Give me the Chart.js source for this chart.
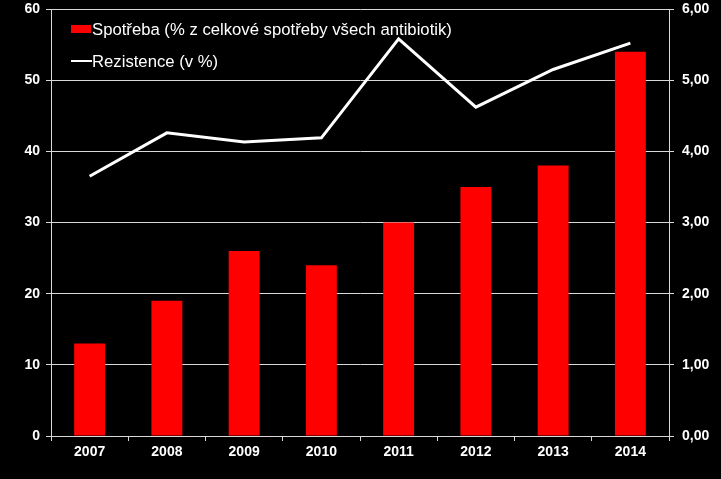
<!DOCTYPE html>
<html>
<head>
<meta charset="utf-8">
<script src="https://cdn.jsdelivr.net/npm/chart.js@4/dist/chart.umd.min.js"></script>
<style>
  html, body { margin: 0; padding: 0; background: #000; }
  #wrap { width: 721px; height: 479px; position: relative; }
</style>
</head>
<body>
<div id="wrap"><canvas id="c" width="721" height="479"></canvas></div>
<script>
const categories = ['2007', '2008', '2009', '2010', '2011', '2012', '2013', '2014'];
const spotreba = [13, 19, 26, 24, 30, 35, 38, 54];
const rezistence = [3.65, 4.26, 4.13, 4.19, 5.58, 4.62, 5.15, 5.52];
const seriesLabels = ['Spotřeba (% z celkové spotřeby všech antibiotik)', 'Rezistence (v %)'];

const tickFont = { family: '"Liberation Sans", Arial, sans-serif', size: 14, weight: 'bold' };

const bgPlugin = {
  id: 'bg',
  beforeDraw(chart) {
    const ctx = chart.ctx;
    ctx.save();
    ctx.fillStyle = '#000';
    ctx.fillRect(0, 0, chart.width, chart.height);
    ctx.restore();
  }
};

const legendPlugin = {
  id: 'innerLegend',
  afterDraw(chart) {
    const ctx = chart.ctx;
    const area = chart.chartArea;
    const x0 = area.left + 20;
    ctx.save();
    ctx.font = '16.7px "Liberation Sans", Arial, sans-serif';
    ctx.textBaseline = 'middle';
    chart.data.datasets.forEach((ds, i) => {
      const y = area.top + 20 + i * 32;
      if (ds.type === 'line') {
        ctx.strokeStyle = ds.borderColor;
        ctx.lineWidth = 2;
        ctx.beginPath();
        ctx.moveTo(x0, y);
        ctx.lineTo(x0 + 21, y);
        ctx.stroke();
      } else {
        ctx.fillStyle = ds.backgroundColor;
        ctx.fillRect(x0, y - 4, 20, 8);
      }
      ctx.fillStyle = '#fff';
      ctx.fillText(ds.label, x0 + 21, y + 1);
    });
    ctx.restore();
  }
};

new Chart(document.getElementById('c'), {
  data: {
    labels: categories,
    datasets: [
      {
        type: 'bar',
        label: seriesLabels[0],
        data: spotreba,
        yAxisID: 'y',
        backgroundColor: '#ff0000',
        borderWidth: 0,
        categoryPercentage: 1,
        barPercentage: 0.4,
        order: 1
      },
      {
        type: 'line',
        label: seriesLabels[1],
        data: rezistence,
        yAxisID: 'y1',
        borderColor: '#ffffff',
        borderWidth: 3,
        pointRadius: 0,
        tension: 0,
        order: 0
      }
    ]
  },
  options: {
    responsive: false,
    animation: false,
    layout: { padding: { top: 9, bottom: 0, left: 0, right: 0 } },
    plugins: { legend: { display: false }, tooltip: { enabled: false } },
    scales: {
      x: {
        type: 'category',
        offset: true,
        grid: { display: true, drawOnChartArea: false, drawTicks: true, tickLength: 5, color: '#d9d9d9', offset: true },
        border: { display: true, color: '#d9d9d9', width: 1 },
        ticks: { color: '#fff', font: tickFont, padding: 3, maxRotation: 0 },
        afterFit(scale) { scale.height = 43; scale.paddingLeft = 0; scale.paddingRight = 0; }
      },
      y: {
        position: 'left',
        min: 0, max: 60,
        ticks: { stepSize: 10, color: '#fff', font: tickFont, padding: 6 },
        grid: { color: '#d9d9d9', lineWidth: 1, tickLength: 5, drawTicks: true },
        border: { display: true, color: '#d9d9d9', width: 1 },
        afterFit(scale) { scale.width = 51; scale.paddingTop = 0; scale.paddingBottom = 0; }
      },
      y1: {
        position: 'right',
        min: 0, max: 6,
        ticks: {
          stepSize: 1, color: '#fff', font: tickFont, padding: 8,
          callback: (v) => v.toFixed(2).replace('.', ',')
        },
        grid: { drawOnChartArea: false, color: '#d9d9d9', tickLength: 5, drawTicks: true },
        border: { display: true, color: '#d9d9d9', width: 1 },
        afterFit(scale) { scale.width = 52; scale.paddingTop = 0; scale.paddingBottom = 0; }
      }
    }
  },
  plugins: [bgPlugin, legendPlugin]
});
</script>
</body>
</html>
